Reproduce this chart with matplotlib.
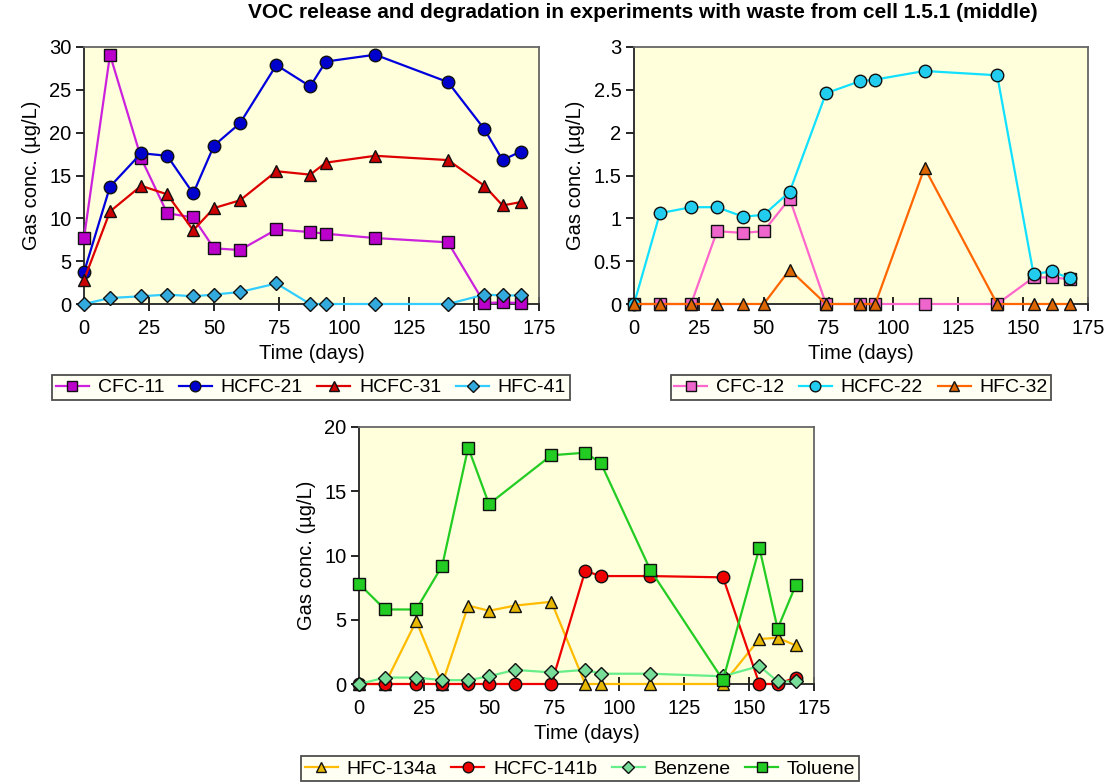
import numpy as np
import matplotlib.pyplot as plt

plt.rcParams['font.family'] = ['Liberation Sans', 'DejaVu Sans']

# sampling days (same for all series)
days = [0, 10, 22, 32, 42, 50, 60, 74, 87, 93, 112, 140, 154, 161, 168]

# top left panel
cfc11 = [7.7, 29.1, 17.0, 10.6, 10.1, 6.5, 6.3, 8.7, 8.4, 8.2, 7.7, 7.2, 0.1, 0.2, 0.1]
hcfc21 = [3.7, 13.7, 17.6, 17.3, 12.9, 18.5, 21.1, 27.9, 25.4, 28.3, 29.1, 25.9, 20.4, 16.8, 17.8]
hcfc31 = [2.8, 10.8, 13.8, 12.8, 8.6, 11.2, 12.1, 15.5, 15.1, 16.5, 17.3, 16.8, 13.8, 11.5, 11.9]
hfc41 = [0.0, 0.7, 0.9, 1.1, 0.9, 1.1, 1.4, 2.4, 0.0, 0.0, 0.0, 0.0, 1.1, 1.0, 1.0]

# top right panel
cfc12 = [0, 0, 0, 0.85, 0.83, 0.85, 1.23, 0, 0, 0, 0, 0, 0.31, 0.31, 0.29]
hcfc22 = [0, 1.06, 1.13, 1.13, 1.02, 1.04, 1.31, 2.46, 2.60, 2.62, 2.72, 2.67, 0.35, 0.38, 0.30]
hfc32 = [0, 0, 0, 0, 0, 0, 0.40, 0, 0, 0, 1.59, 0, 0, 0, 0]

# bottom panel
hfc134a = [0, 0, 4.9, 0, 6.1, 5.7, 6.1, 6.4, 0, 0, 0, 0, 3.5, 3.6, 3.0]
hcfc141b = [0, 0, 0, 0, 0, 0, 0, 0, 8.8, 8.4, 8.4, 8.3, 0, 0, 0.5]
benzene = [0, 0.5, 0.5, 0.3, 0.3, 0.6, 1.1, 0.9, 1.1, 0.8, 0.8, 0.6, 1.4, 0.2, 0.2]
tol_days = [0, 10, 22, 32, 42, 50, 74, 87, 93, 112, 140, 154, 161, 168]
toluene = [7.8, 5.8, 5.8, 9.2, 18.4, 14.0, 17.8, 18.0, 17.2, 8.9, 0.3, 10.6, 4.3, 7.7]

W, H = 1107, 782
fig = plt.figure(figsize=(W / 100, H / 100), dpi=100)
fig.text(643 / W, 1 - 13 / H, 'VOC release and degradation in experiments with waste from cell 1.5.1 (middle)',
         ha='center', va='center', fontsize=15, fontweight='bold')

bg = '#FFFFDC'
FS = 14.5


def px_axes(x0, y0, x1, y1):
    return fig.add_axes([x0 / W, 1 - y1 / H, (x1 - x0) / W, (y1 - y0) / H])


def style(ax, ymax, yticks, ylabels):
    ax.set_facecolor(bg)
    ax.set_xlim(0, 175)
    ax.set_ylim(0, ymax)
    ax.set_xticks([0, 25, 50, 75, 100, 125, 150, 175])
    ax.set_yticks(yticks)
    ax.set_yticklabels(ylabels)
    ax.tick_params(axis='x', direction='inout', length=10, width=1.2, labelsize=FS, pad=6)
    ax.tick_params(axis='y', direction='out', length=6, width=1.2, labelsize=FS, pad=3)
    for s in ['top', 'right']:
        ax.spines[s].set_color('#666666')
        ax.spines[s].set_linewidth(1.3)
    for s in ['left', 'bottom']:
        ax.spines[s].set_color('#222222')
        ax.spines[s].set_linewidth(1.3)
    ax.set_xlabel('Time (days)', fontsize=FS, labelpad=4)
    ax.set_ylabel('Gas conc. (µg/L)', fontsize=FS, labelpad=6)


def series(ax, x, y, line, face, marker, label, ms=9):
    ax.plot(x, y, color=line, lw=1.6, marker=marker, ms=ms, mfc=face, mec='#111111',
            mew=1.0, label=label, clip_on=False, zorder=3)


def legend(ax, cx, top):
    lg = ax.legend(loc='upper center', bbox_to_anchor=(cx / W, 1 - top / H),
                   bbox_transform=fig.transFigure, ncol=len(ax.lines), frameon=True, fancybox=False,
                   fontsize=14, handlelength=1.7, handletextpad=0.45, columnspacing=0.75,
                   borderpad=0.2, borderaxespad=0, markerscale=0.85)
    lg.get_frame().set_edgecolor('#222222')
    lg.get_frame().set_linewidth(1.3)
    lg.get_frame().set_facecolor('#FFFFF2')


ax1 = px_axes(84, 47, 539, 304)
style(ax1, 30, [0, 5, 10, 15, 20, 25, 30], ['0', '5', '10', '15', '20', '25', '30'])
series(ax1, days, cfc11, '#CC22DD', '#BB00CC', 's', 'CFC-11', ms=8.5)
series(ax1, days, hcfc21, '#0000DD', '#0000CC', 'o', 'HCFC-21')
series(ax1, days, hcfc31, '#DD0000', '#CC0000', '^', 'HCFC-31')
series(ax1, days, hfc41, '#33CCFF', '#33AADD', 'D', 'HFC-41', ms=7.5)
legend(ax1, 311, 375)

ax2 = px_axes(634, 47, 1088, 304)
style(ax2, 3, [0, 0.5, 1, 1.5, 2, 2.5, 3], ['0', '0.5', '1', '1.5', '2', '2.5', '3'])
series(ax2, days, cfc12, '#FF66CC', '#EE66CC', 's', 'CFC-12', ms=8.5)
series(ax2, days, hcfc22, '#11E0FF', '#22CCEE', 'o', 'HCFC-22')
series(ax2, days, hfc32, '#FF6600', '#DD6600', '^', 'HFC-32')
legend(ax2, 861, 375)

ax3 = px_axes(359, 427, 814, 684)
style(ax3, 20, [0, 5, 10, 15, 20], ['0', '5', '10', '15', '20'])
series(ax3, days, hfc134a, '#FFBB00', '#E8B800', '^', 'HFC-134a')
series(ax3, days, hcfc141b, '#EE0000', '#EE0000', 'o', 'HCFC-141b')
series(ax3, days, benzene, '#66EE88', '#77DD99', 'D', 'Benzene', ms=7.5)
series(ax3, tol_days, toluene, '#22CC22', '#22CC22', 's', 'Toluene', ms=8.5)
legend(ax3, 580, 756)

fig.savefig('out.png', dpi=100)
